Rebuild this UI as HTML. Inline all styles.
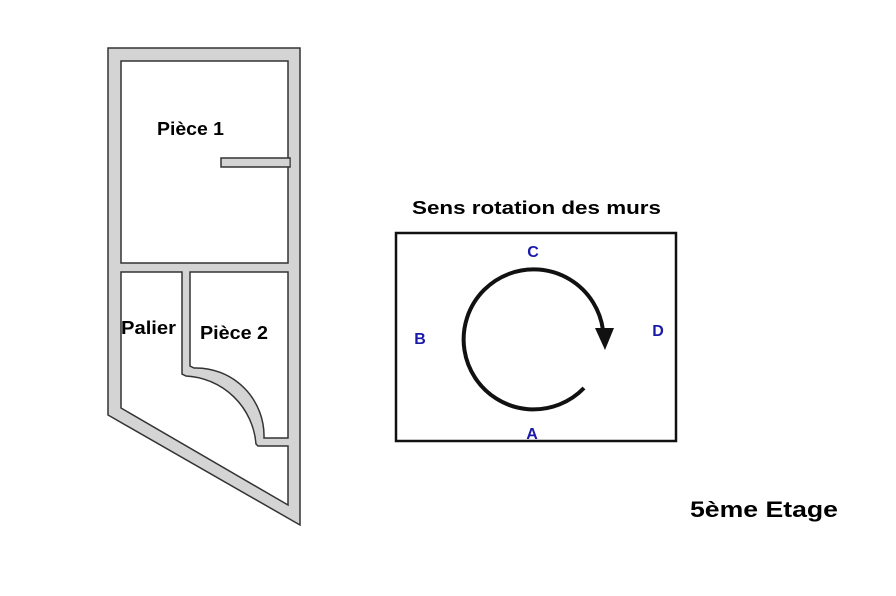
<!DOCTYPE html>
<html><head><meta charset="utf-8"><style>
html,body{margin:0;padding:0;background:#fff;width:896px;height:596px;overflow:hidden}
svg{display:block}
text{font-family:"Liberation Sans",sans-serif;font-weight:bold}
</style></head><body>
<svg width="896" height="596" viewBox="0 0 896 596">
<g stroke="#333" stroke-width="1.5">
<polygon points="108,48 300,48 300,525 108,415" fill="#d4d4d4"/>
<rect x="121" y="61" width="167" height="202" fill="#fff"/>
<rect x="221" y="158" width="69" height="9" fill="#d4d4d4"/>
<path d="M121,272 L182,272 L182,374 L186,376 A74,74 0 0 1 256,444 L258,446 L288,446 L288,505 L121,408 Z" fill="#fff"/>
<path d="M190,272 L288,272 L288,438 L264,438 A68,68 0 0 0 194,368 L190,366 Z" fill="#fff"/>
</g>
<line x1="288" y1="159" x2="288" y2="166" stroke="#d4d4d4" stroke-width="3"/>
<text x="157" y="135" font-size="18" textLength="67" lengthAdjust="spacingAndGlyphs">Pièce 1</text>
<text x="121" y="334" font-size="18" textLength="55" lengthAdjust="spacingAndGlyphs">Palier</text>
<text x="200" y="339" font-size="18" textLength="68" lengthAdjust="spacingAndGlyphs">Pièce 2</text>
<text x="412" y="214" font-size="18" textLength="249" lengthAdjust="spacingAndGlyphs">Sens rotation des murs</text>
<rect x="396" y="233" width="280" height="208" fill="none" stroke="#111" stroke-width="2.5"/>
<g fill="#1a1aa8" font-size="16">
<text x="533" y="257" text-anchor="middle">C</text>
<text x="420" y="344" text-anchor="middle">B</text>
<text x="658" y="336" text-anchor="middle">D</text>
<text x="532" y="439" text-anchor="middle">A</text>
</g>
<path d="M584,388 A70,70 0 1 1 603,330" fill="none" stroke="#111" stroke-width="4"/>
<polygon points="595,328 614,328 605,350" fill="#111"/>
<text x="690" y="517" font-size="22" textLength="148" lengthAdjust="spacingAndGlyphs">5ème Etage</text>
</svg>
</body></html>
